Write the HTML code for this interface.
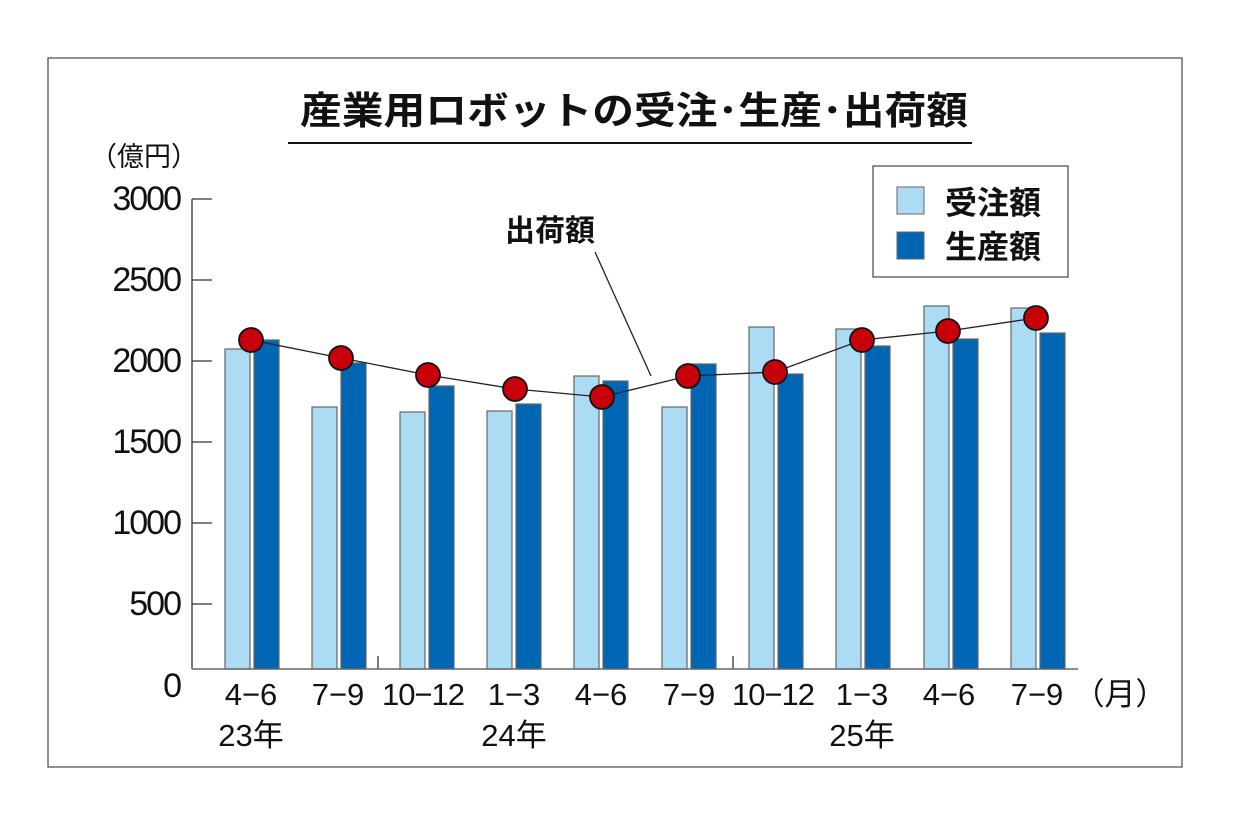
<!DOCTYPE html>
<html><head><meta charset="utf-8"><style>
body{margin:0;background:#fff}
svg text{font-family:"Liberation Sans","Noto Sans CJK JP",sans-serif;fill:#111}
</style></head><body>
<svg width="1239" height="818" xmlns="http://www.w3.org/2000/svg">
<rect x="48" y="58" width="1134" height="709" fill="#fff" stroke="#555" stroke-width="1.3"/>
<text x="300" y="124" font-size="38" font-weight="bold" textLength="668" lengthAdjust="spacingAndGlyphs">産業用ロボットの受注･生産･出荷額</text>
<line x1="288" y1="143" x2="972" y2="143" stroke="#111" stroke-width="2"/>
<text x="90" y="166" font-size="27">（億円）</text>
<g font-size="34" text-anchor="end" letter-spacing="-2">
<text x="180" y="210">3000</text><text x="180" y="291">2500</text><text x="180" y="372">2000</text>
<text x="180" y="453">1500</text><text x="180" y="534">1000</text><text x="180" y="615">500</text><text x="180" y="697">0</text>
</g>
<g stroke="#333" stroke-width="1.3">
<line x1="192" y1="199" x2="192" y2="669"/>
<line x1="192" y1="199" x2="212" y2="199"/><line x1="192" y1="280" x2="212" y2="280"/>
<line x1="192" y1="361" x2="212" y2="361"/><line x1="192" y1="442" x2="212" y2="442"/>
<line x1="192" y1="523" x2="212" y2="523"/><line x1="192" y1="604" x2="212" y2="604"/>
<line x1="378" y1="656" x2="378" y2="669"/><line x1="733" y1="656" x2="733" y2="669"/>
</g>
<g stroke="#666" stroke-width="1.2">
<rect x="225" y="349" width="25" height="320" fill="#acdcf4"/><rect x="254" y="340" width="25" height="329" fill="#0066b3"/>
<rect x="312" y="407" width="25" height="262" fill="#acdcf4"/><rect x="341" y="363" width="25" height="306" fill="#0066b3"/>
<rect x="400" y="412" width="25" height="257" fill="#acdcf4"/><rect x="429" y="386" width="25" height="283" fill="#0066b3"/>
<rect x="487" y="411" width="25" height="258" fill="#acdcf4"/><rect x="516" y="404" width="25" height="265" fill="#0066b3"/>
<rect x="574" y="376" width="25" height="293" fill="#acdcf4"/><rect x="603" y="381" width="25" height="288" fill="#0066b3"/>
<rect x="662" y="407" width="25" height="262" fill="#acdcf4"/><rect x="691" y="364" width="25" height="305" fill="#0066b3"/>
<rect x="749" y="327" width="25" height="342" fill="#acdcf4"/><rect x="778" y="374" width="25" height="295" fill="#0066b3"/>
<rect x="836" y="329" width="25" height="340" fill="#acdcf4"/><rect x="865" y="346" width="25" height="323" fill="#0066b3"/>
<rect x="924" y="306" width="25" height="363" fill="#acdcf4"/><rect x="953" y="339" width="25" height="330" fill="#0066b3"/>
<rect x="1011" y="308" width="25" height="361" fill="#acdcf4"/><rect x="1040" y="333" width="25" height="336" fill="#0066b3"/>
</g>
<line x1="192" y1="669" x2="1078" y2="669" stroke="#666" stroke-width="1.6"/>
<polyline points="251,340 341,358 428,375 515,389 602,397 688,376 775,372 862,340 948,331 1036,318" fill="none" stroke="#222" stroke-width="1.3"/>
<line x1="595" y1="252" x2="651" y2="376" stroke="#222" stroke-width="1.3"/>
<g fill="#c8000a" stroke="#111" stroke-width="1.8">
<circle cx="251" cy="340" r="12"/><circle cx="341" cy="358" r="12"/><circle cx="428" cy="375" r="12"/>
<circle cx="515" cy="389" r="12"/><circle cx="602" cy="397" r="12"/><circle cx="688" cy="376" r="12"/>
<circle cx="775" cy="372" r="12"/><circle cx="862" cy="340" r="12"/><circle cx="948" cy="331" r="12"/><circle cx="1036" cy="318" r="12"/>
</g>
<text x="550" y="241" font-size="30" font-weight="bold" text-anchor="middle">出荷額</text>
<rect x="873" y="166" width="195" height="111" fill="#fff" stroke="#444" stroke-width="1.2"/>
<rect x="897" y="187" width="27" height="27" fill="#acdcf4" stroke="#666"/>
<rect x="897" y="232" width="27" height="27" fill="#0066b3" stroke="#666"/>
<text x="945" y="214" font-size="32" font-weight="bold">受注額</text>
<text x="945" y="258" font-size="32" font-weight="bold">生産額</text>
<g font-size="31" text-anchor="middle">
<text x="251" y="705">4−6</text><text x="338" y="705">7−9</text><text x="423" y="705" letter-spacing="-1">10−12</text>
<text x="514" y="705">1−3</text><text x="601" y="705">4−6</text><text x="689" y="705">7−9</text>
<text x="773" y="705" letter-spacing="-1">10−12</text><text x="862" y="705">1−3</text><text x="949" y="705">4−6</text><text x="1037" y="705">7−9</text>
<text x="251" y="746">23年</text><text x="514" y="746">24年</text><text x="862" y="746">25年</text>
<text x="1120" y="705">（月）</text>
</g>
</svg>
</body></html>
